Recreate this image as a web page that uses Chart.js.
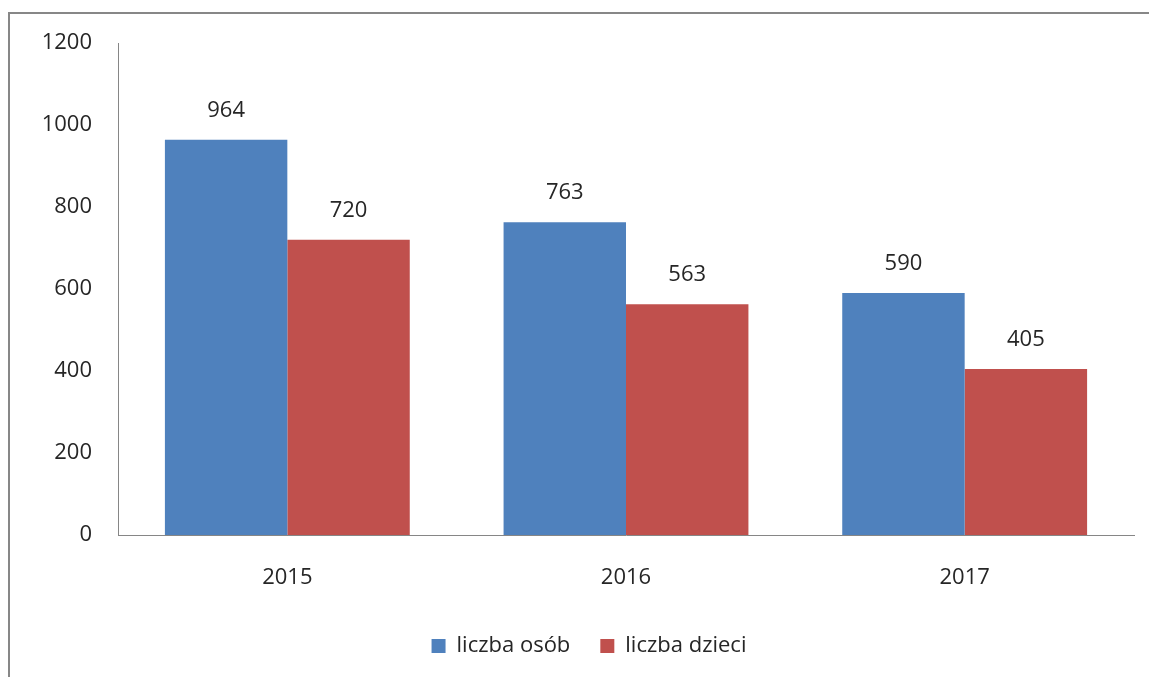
<!DOCTYPE html>
<html>
<head>
<meta charset="utf-8">
<script src="https://cdn.jsdelivr.net/npm/chart.js@4/dist/chart.umd.min.js"></script>
<style>
  html, body { margin: 0; padding: 0; background: #fff; overflow: hidden; }
  #wrap { position: relative; width: 1149px; height: 677px; }
  #frame { position: absolute; left: 8px; top: 12px; width: 1200px; height: 800px;
           border-left: 2px solid #878787; border-top: 2px solid #878787; }
  canvas { position: absolute; left: 0; top: 0; }
</style>
</head>
<body>
<div id="wrap">
  <div id="frame"></div>
  <canvas id="chart" width="1149" height="677"></canvas>
</div>
<script>
const years = ["2015", "2016", "2017"];
const osob = [964, 763, 590];
const dzieci = [720, 563, 405];
const seriesNames = ["liczba osób", "liczba dzieci"];

const FONT = "'Open Sans', sans-serif";
const TXT = "#262626";

// value labels above each bar
const valueLabels = {
  id: "valueLabels",
  afterDatasetsDraw(chart){
    const ctx = chart.ctx;
    ctx.save();
    ctx.font = "22px " + FONT;
    ctx.fillStyle = TXT;
    ctx.textAlign = "center";
    ctx.textBaseline = "middle";
    chart.data.datasets.forEach((ds, i)=>{
      chart.getDatasetMeta(i).data.forEach((bar, j)=>{
        ctx.fillText(ds.data[j], bar.x, bar.y - 29);
      });
    });
    ctx.restore();
  }
};

// legend sits a bit right of the canvas centre in the original
const legendShift = {
  id: "legendShift",
  afterUpdate(chart){
    if(!chart.legend) return;
    chart.legend.left += 22;
    chart.legend.right += 22;
  }
};

new Chart(document.getElementById("chart"), {
  type: "bar",
  data: {
    labels: years,
    datasets: [
      { label: seriesNames[0], data: osob, backgroundColor: "#4F81BD" },
      { label: seriesNames[1], data: dzieci, backgroundColor: "#C0504D" }
    ]
  },
  options: {
    responsive: false,
    animation: false,
    categoryPercentage: 0.723,
    barPercentage: 1,
    layout: { padding: { left: 0, right: 15, top: 43, bottom: 10 } },
    scales: {
      x: {
        grid: { display: false, drawTicks: false },
        border: { color: "#868686", width: 1 },
        ticks: { color: TXT, font: { family: FONT, size: 22 }, padding: 30 },
        afterFit(scale){ scale.height = 70; }
      },
      y: {
        min: 0, max: 1200,
        grid: { display: false, drawTicks: false },
        border: { color: "#868686", width: 1 },
        ticks: { stepSize: 200, color: TXT, font: { family: FONT, size: 22 }, padding: 26,
                 callback: v => String(v) },
        afterFit(scale){ scale.width = 118; }
      }
    },
    plugins: {
      legend: {
        position: "bottom",
        labels: {
          color: TXT,
          font: { family: FONT, size: 22 },
          boxWidth: 14, boxHeight: 14,
          padding: 30
        }
      },
      tooltip: { enabled: false }
    }
  },
  plugins: [valueLabels, legendShift]
});
</script>
</body>
</html>
